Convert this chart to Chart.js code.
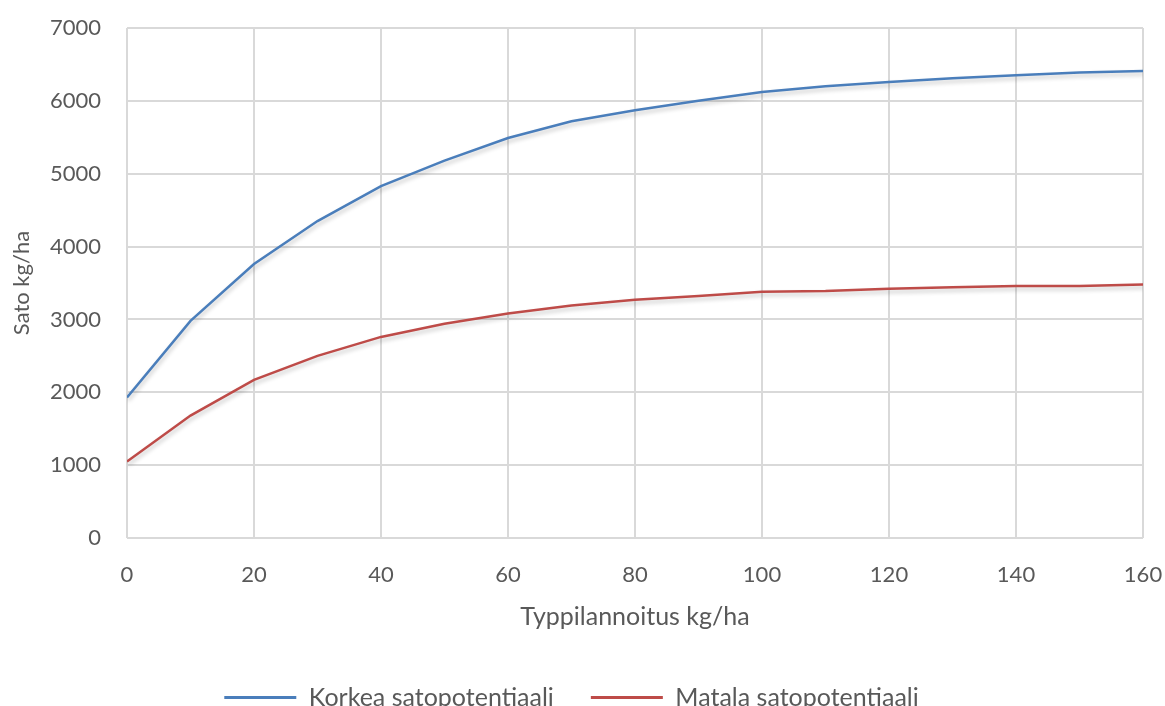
<!DOCTYPE html>
<html>
<head>
<meta charset="utf-8">
<script src="https://cdn.jsdelivr.net/npm/chart.js@4/dist/chart.umd.min.js"></script>
<style>
html,body{margin:0;padding:0;background:#fff;overflow:hidden;}
#wrap{position:absolute;left:0;top:0;width:1165px;height:720px;}
</style>
</head>
<body>
<div id="wrap"><canvas id="c"></canvas></div>
<script>
const nitrogen = [0,10,20,30,40,50,60,70,80,90,100,110,120,130,140,150,160];
const highPotential = [1930,2980,3760,4350,4830,5180,5490,5720,5870,6000,6120,6200,6260,6310,6350,6390,6410];
const lowPotential  = [1050,1680,2170,2500,2760,2940,3080,3190,3270,3320,3380,3390,3420,3440,3460,3460,3480];
const seriesNames = ['Korkea satopotentiaali','Matala satopotentiaali'];
const xTitle = 'Typpilannoitus kg/ha';
const yTitle = 'Sato kg/ha';

const FONT = 'Lato, "Open Sans", sans-serif';
const TXT = '#595959';
const GRID = '#d9d9d9';

const shadowPlugin = {
  id:'shadow',
  beforeDatasetsDraw(chart){
    const ctx = chart.ctx; ctx.save();
    ctx.shadowColor='rgba(0,0,0,0.22)'; ctx.shadowBlur=4; ctx.shadowOffsetX=1; ctx.shadowOffsetY=3;
  },
  afterDatasetsDraw(chart){ chart.ctx.restore(); }
};

new Chart(document.getElementById('c'), {
  type:'line',
  data:{
    datasets:[
      {label:seriesNames[0], data:nitrogen.map((x,i)=>({x, y:highPotential[i]})), borderColor:'#4a7ebb', backgroundColor:'#4a7ebb', borderWidth:2.5, pointRadius:0, tension:0},
      {label:seriesNames[1], data:nitrogen.map((x,i)=>({x, y:lowPotential[i]})), borderColor:'#be4b48', backgroundColor:'#be4b48', borderWidth:2.5, pointRadius:0, tension:0}
    ]
  },
  options:{
    responsive:true, maintainAspectRatio:false, animation:false,
    layout:{padding:{top:28,right:22,left:0,bottom:0}},
    plugins:{
      tooltip:{enabled:false},
      legend:{
        position:'bottom',
        labels:{
          font:{family:FONT,size:25}, color:TXT, boxWidth:72, boxHeight:3, padding:37,
          generateLabels(chart){
            return chart.data.datasets.map((d,i)=>({text:d.label, fillStyle:d.borderColor, strokeStyle:d.borderColor, lineWidth:0, datasetIndex:i, fontColor:TXT}));
          }
        }
      }
    },
    scales:{
      x:{
        type:'linear', min:0, max:160,
        ticks:{stepSize:20, font:{family:FONT,size:22}, color:TXT, padding:24, callback:v=>String(v)},
        grid:{color:GRID, lineWidth:2, drawTicks:false},
        border:{display:false},
        title:{display:true, text:xTitle, font:{family:FONT,size:25}, color:TXT, padding:{top:10,bottom:16}},
        afterFit(s){ s.height = 110; s.paddingLeft = 0; s.paddingRight = 0; }
      },
      y:{
        min:0, max:7000,
        ticks:{stepSize:1000, font:{family:FONT,size:22}, color:TXT, padding:26, callback:v=>String(v)},
        grid:{color:GRID, lineWidth:2, drawTicks:false},
        border:{display:false},
        title:{display:true, text:yTitle, font:{family:FONT,size:22}, color:TXT, padding:{top:9,bottom:6}},
        afterFit(s){ s.width = 127; s.paddingTop = 0; s.paddingBottom = 0; }
      }
    }
  },
  plugins:[shadowPlugin]
});
</script>
</body>
</html>
